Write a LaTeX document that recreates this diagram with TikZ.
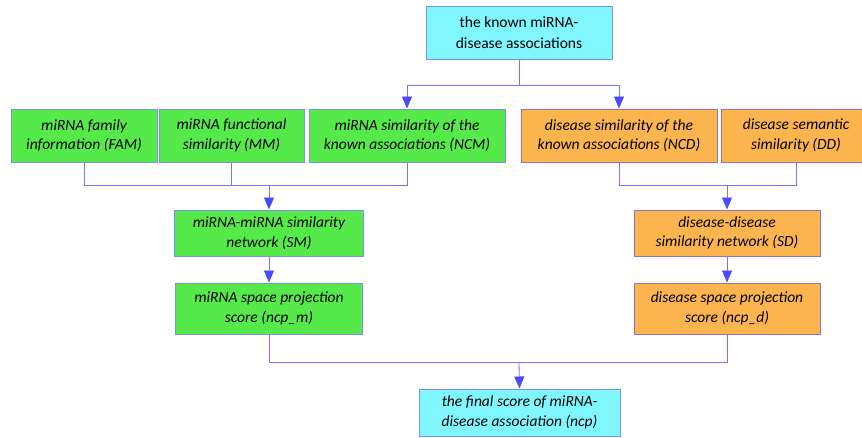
\documentclass[tikz,border=0pt]{standalone}
\usepackage{fontspec}
\setmainfont{Carlito}
\usetikzlibrary{arrows.meta}
\definecolor{boxcyan}{HTML}{80F6FF}
\definecolor{boxgreen}{HTML}{55EA4A}
\definecolor{boxorange}{HTML}{FBB44E}
\definecolor{edgeblue}{HTML}{7890F0}
\definecolor{edgepurple}{HTML}{9A70B8}
\definecolor{linkblue}{HTML}{7474FF}
\definecolor{tipblue}{HTML}{4A4AFF}

\begin{document}
\begin{tikzpicture}[x=1pt,y=-1pt,
    box/.style={draw=edgeblue,line width=1pt,align=center,inner sep=0pt,
      font=\itshape\fontsize{15.5}{19.5}\selectfont},
    cyanbox/.style={box,fill=boxcyan},
    greenbox/.style={box,fill=boxgreen},
    orangebox/.style={box,fill=boxorange,draw=edgepurple},
    link/.style={draw=linkblue,line width=0.8pt},
    arrow/.style={link,-{Triangle[length=12pt,width=10pt,fill=tipblue,color=tipblue]}}]
    \useasboundingbox (0,0) rectangle (862,437);
    % top and bottom
    \node[cyanbox,font=\fontsize{15.5}{21}\selectfont,minimum width=186pt,minimum height=53pt] (known) at (519,32.5) {the known miRNA-\\disease associations};
    \node[cyanbox,minimum width=201pt,minimum height=47pt] (final) at (519.5,412.5) {the final score of miRNA-\\disease association (ncp)};
    % miRNA side
    \node[greenbox,minimum width=146pt,minimum height=53pt] (fam) at (84,135.5) {miRNA family\\information (FAM)};
    \node[greenbox,minimum width=145pt,minimum height=53pt] (mm) at (231.5,135.5) {miRNA functional\\similarity (MM)};
    \node[greenbox,minimum width=196pt,minimum height=53pt] (ncm) at (407,135.5) {miRNA similarity of the\\known associations (NCM)};
    \node[greenbox,minimum width=189pt,minimum height=46pt] (sm) at (269,233) {miRNA-miRNA similarity\\network (SM)};
    \node[greenbox,minimum width=187pt,minimum height=51pt] (ncpm) at (269,308.5) {miRNA space projection\\score (ncp\_m)};
    % disease side
    \node[orangebox,minimum width=196pt,minimum height=53pt] (ncd) at (619,135.5) {disease similarity of the\\known associations (NCD)};
    \node[orangebox,minimum width=150pt,minimum height=53pt] (dd) at (796,135.5) {disease semantic\\similarity (DD)};
    \node[orangebox,minimum width=186pt,minimum height=46pt] (sd) at (727,233) {disease-disease\\similarity network (SD)};
    \node[orangebox,minimum width=186pt,minimum height=51pt] (ncpd) at (727,308.5) {disease space projection\\score (ncp\_d)};
    % joints
    \coordinate (split) at (519,85);
    \coordinate (joinm) at (269,185);
    \coordinate (joind) at (727,185);
    \coordinate (joinf) at (519,362);
    % links
    \draw[link] (known) -- (split);
    \draw[arrow] (split) -| (ncm.north);
    \draw[arrow] (split) -| (ncd.north);
    \draw[link] (fam.south) |- (joinm);
    \draw[link] (mm.south) |- (joinm);
    \draw[link] (ncm.south) |- (joinm);
    \draw[arrow] (joinm) -- (sm.north);
    \draw[arrow] (sm) -- (ncpm);
    \draw[link] (ncd.south) |- (joind);
    \draw[link] (dd.south) |- (joind);
    \draw[arrow] (joind) -- (sd.north);
    \draw[arrow] (sd) -- (ncpd);
    \draw[link] (ncpm.south) |- (joinf);
    \draw[link] (ncpd.south) |- (joinf);
    \draw[arrow] (joinf) -- (final.north);
\end{tikzpicture}
\end{document}
